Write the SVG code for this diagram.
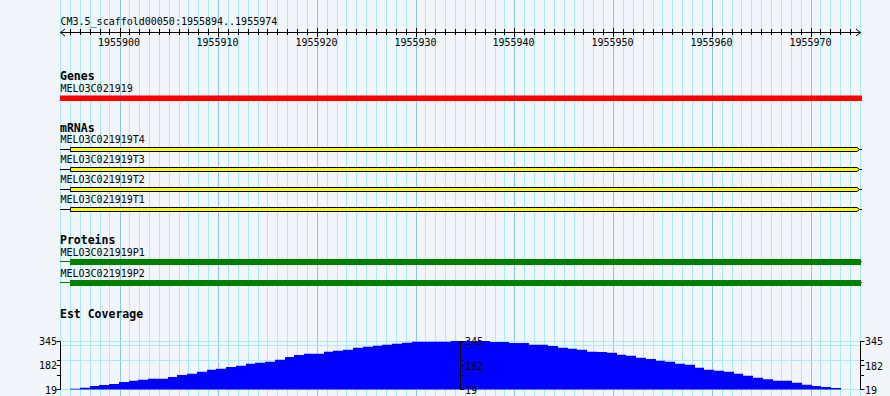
<svg xmlns="http://www.w3.org/2000/svg" width="890" height="396" viewBox="0 0 890 396">
<style>
.bg{fill:#f2f5fa}
.gmin{stroke:#a6eef2;stroke-width:1;fill:none}
.gmaj{stroke:#8cc8ea;stroke-width:1;fill:none}
.lbl{font-family:"DejaVu Sans Mono","Liberation Mono",monospace;font-size:10px;fill:#000}
.ttl{font-family:"DejaVu Sans Mono","Liberation Mono",monospace;font-size:11.5px;font-weight:bold;fill:#000}
.ink{stroke:#000;stroke-width:1;fill:none}
.mrna{fill:#ffff00;stroke:#000;stroke-width:1}
.prot{fill:#008000}
.pline{stroke:#008000;stroke-width:1;fill:none}
.cov{fill:#0000ff}
.hgrid{stroke:#a6eef2;stroke-width:1;fill:none}
</style>
<rect class="bg" x="0" y="0" width="890" height="396"/>
<g id="grid">
<path class="gmin" d="M60.5 0V396M70.5 0V396M80.5 0V396M90.5 0V396M100.5 0V396M109.5 0V396M129.5 0V396M139.5 0V396M149.5 0V396M159.5 0V396M169.5 0V396M179.5 0V396M188.5 0V396M198.5 0V396M208.5 0V396M228.5 0V396M238.5 0V396M248.5 0V396M258.5 0V396M267.5 0V396M277.5 0V396M287.5 0V396M297.5 0V396M307.5 0V396M327.5 0V396M337.5 0V396M346.5 0V396M356.5 0V396M366.5 0V396M376.5 0V396M386.5 0V396M396.5 0V396M406.5 0V396M425.5 0V396M435.5 0V396M445.5 0V396M455.5 0V396M465.5 0V396M475.5 0V396M485.5 0V396M495.5 0V396M504.5 0V396M524.5 0V396M534.5 0V396M544.5 0V396M554.5 0V396M564.5 0V396M574.5 0V396M583.5 0V396M593.5 0V396M603.5 0V396M623.5 0V396M633.5 0V396M643.5 0V396M653.5 0V396M662.5 0V396M672.5 0V396M682.5 0V396M692.5 0V396M702.5 0V396M722.5 0V396M732.5 0V396M741.5 0V396M751.5 0V396M761.5 0V396M771.5 0V396M781.5 0V396M791.5 0V396M801.5 0V396M820.5 0V396M830.5 0V396M840.5 0V396M850.5 0V396M860.5 0V396"/>
<path class="gmaj" d="M120.5 0V396M218.5 0V396M317.5 0V396M416.5 0V396M514.5 0V396M613.5 0V396M712.5 0V396M811.5 0V396"/>
<path class="hgrid" d="M60 341.5H861M60 345.5H861M60 360.5H861M60 389.5H861"/>
</g>
<g id="ruler">
<text class="lbl" x="60.5" y="25">CM3.5_scaffold00050:1955894..1955974</text>
<path class="ink" d="M60.5 32.5H860.5M65 29L60.5 32.5L65 36M856 29L860.5 32.5L856 36"/>
<path class="ink" d="M70.5 29V35M80.5 29V35M90.5 29V35M100.5 29V35M109.5 29V35M129.5 29V35M139.5 29V35M149.5 29V35M159.5 29V35M169.5 29V35M179.5 29V35M188.5 29V35M198.5 29V35M208.5 29V35M228.5 29V35M238.5 29V35M248.5 29V35M258.5 29V35M267.5 29V35M277.5 29V35M287.5 29V35M297.5 29V35M307.5 29V35M327.5 29V35M337.5 29V35M346.5 29V35M356.5 29V35M366.5 29V35M376.5 29V35M386.5 29V35M396.5 29V35M406.5 29V35M425.5 29V35M435.5 29V35M445.5 29V35M455.5 29V35M465.5 29V35M475.5 29V35M485.5 29V35M495.5 29V35M504.5 29V35M524.5 29V35M534.5 29V35M544.5 29V35M554.5 29V35M564.5 29V35M574.5 29V35M583.5 29V35M593.5 29V35M603.5 29V35M623.5 29V35M633.5 29V35M643.5 29V35M653.5 29V35M662.5 29V35M672.5 29V35M682.5 29V35M692.5 29V35M702.5 29V35M722.5 29V35M732.5 29V35M741.5 29V35M751.5 29V35M761.5 29V35M771.5 29V35M781.5 29V35M791.5 29V35M801.5 29V35M820.5 29V35M830.5 29V35M840.5 29V35M850.5 29V35"/>
<path class="ink" d="M120.5 28V37M218.5 28V37M317.5 28V37M416.5 28V37M514.5 28V37M613.5 28V37M712.5 28V37M811.5 28V37"/>
<g class="lbl" text-anchor="middle">
<text x="119" y="46">1955900</text>
<text x="217.5" y="46">1955910</text>
<text x="316.5" y="46">1955920</text>
<text x="415.5" y="46">1955930</text>
<text x="513.5" y="46">1955940</text>
<text x="612.5" y="46">1955950</text>
<text x="711.5" y="46">1955960</text>
<text x="810.5" y="46">1955970</text>
</g>
</g>
<g id="genes">
<text class="ttl" x="60" y="80">Genes</text>
<text class="lbl" x="60.5" y="92">MELO3C021919</text>
<rect x="60" y="95.5" width="802" height="5.5" fill="#ff0000"/>
</g>
<g id="mrnas">
<text class="ttl" x="60" y="132">mRNAs</text>
<g id="mrna-T4">
<text class="lbl" x="60.5" y="143">MELO3C021919T4</text>
<path class="ink" d="M60 149.5H70M859.5 149.5H862"/>
<path class="mrna" d="M70.5 147.5H857L859.5 149.5L857 151.5H70.5Z"/>
</g>
<g id="mrna-T3">
<text class="lbl" x="60.5" y="163">MELO3C021919T3</text>
<path class="ink" d="M60 169.5H70M859.5 169.5H862"/>
<path class="mrna" d="M70.5 167.5H857L859.5 169.5L857 171.5H70.5Z"/>
</g>
<g id="mrna-T2">
<text class="lbl" x="60.5" y="183">MELO3C021919T2</text>
<path class="ink" d="M60 189.5H70M859.5 189.5H862"/>
<path class="mrna" d="M70.5 187.5H857L859.5 189.5L857 191.5H70.5Z"/>
</g>
<g id="mrna-T1">
<text class="lbl" x="60.5" y="203">MELO3C021919T1</text>
<path class="ink" d="M60 209.5H70M859.5 209.5H862"/>
<path class="mrna" d="M70.5 207.5H857L859.5 209.5L857 211.5H70.5Z"/>
</g>
</g>
<g id="proteins">
<text class="ttl" x="60" y="244">Proteins</text>
<g id="prot-P1">
<text class="lbl" x="60.5" y="256">MELO3C021919P1</text>
<path class="pline" d="M60 261.5H70M860 261.5H862"/>
<rect class="prot" x="70" y="259" width="791" height="6"/>
</g>
<g id="prot-P2">
<text class="lbl" x="60.5" y="277">MELO3C021919P2</text>
<path class="pline" d="M60 282.5H70M860 282.5H862"/>
<rect class="prot" x="70" y="280" width="791" height="6"/>
</g>
</g>
<g id="est-coverage">
<text class="ttl" x="60" y="318">Est Coverage</text>
<path class="cov" d="M70,389.5 V388.7 H80 V387.7 H90 V386 H99 V385 H109 V384 H119 V382 H129 V380.7 H138 V379.7 H148 V378.7 H168 V377 H177 V375 H187 V373.7 H197 V371.7 H207 V369.7 H216 V368.7 H226 V367 H236 V365.7 H246 V363.7 H255 V362.7 H265 V361.7 H275 V359.7 H285 V357 H294 V355 H304 V353.7 H324 V351.7 H333 V350.7 H343 V349.7 H353 V347.7 H363 V346.7 H373 V345.7 H382 V344.7 H392 V343.7 H402 V342.7 H412 V341.7 H451 V341 H490 V342 H509 V343 H529 V344.7 H548 V346 H558 V347.7 H568 V348.7 H577 V349.7 H587 V351.7 H597 V352 H607 V352.7 H617 V354.7 H626 V355.7 H636 V357.7 H646 V359 H656 V360.7 H665 V361.7 H675 V363.7 H685 V364.7 H695 V367.7 H704 V369.7 H714 V370.7 H724 V371.7 H734 V373.7 H743 V375.7 H753 V377.7 H763 V379.3 H773 V380.7 H792 V382.7 H802 V384.7 H812 V386 H821 V387 H831 V388 H841 V389.5 Z"/>
<path class="ink" d="M60.5 341.5V389.5M56.5 341.5H60.5M57 360.5H60.5M56.5 365.5H60.5M57 375.5H60.5M56.5 389.5H60.5"/>
<path class="ink" d="M460.5 341.5V389.5M460.5 341.5H464.5M460.5 360.5H464M460.5 365.5H464.5M460.5 375.5H464M460.5 389.5H464.5"/>
<path class="ink" d="M860.5 341.5V389.5M860.5 341.5H864.5M860.5 360.5H864M860.5 365.5H864.5M860.5 375.5H864M860.5 389.5H864.5"/>
<g class="lbl" text-anchor="end">
<text x="57" y="345">345</text>
<text x="57" y="369">182</text>
<text x="57" y="393.5">19</text>
</g>
<g class="lbl">
<text x="465" y="345">345</text>
<text x="465" y="369.5">182</text>
<text x="465" y="393.5">19</text>
<text x="865" y="345">345</text>
<text x="865" y="369.5">182</text>
<text x="865" y="393.5">19</text>
</g>
</g>
</svg>
